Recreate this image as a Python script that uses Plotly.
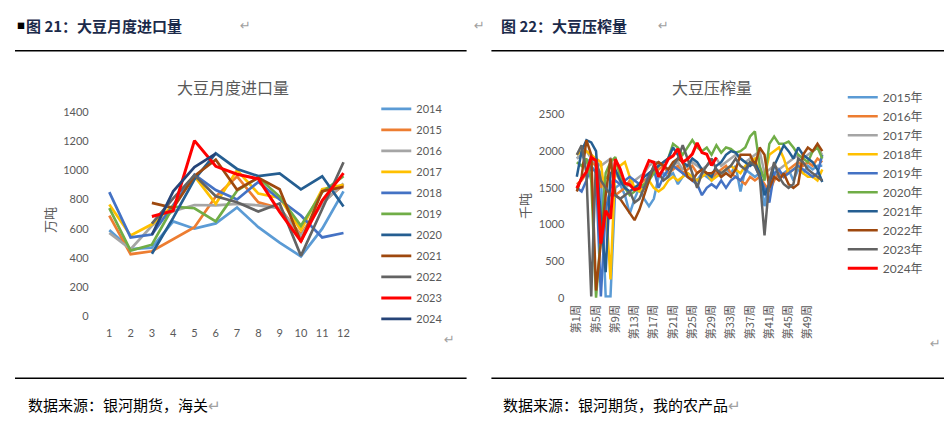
import plotly.graph_objects as go

# page is 952x431; the browser adds an 8px body margin, so the figure is 936x415
PAGE_MARGIN = 8
W, H = 952 - 2 * PAGE_MARGIN, 431 - 2 * PAGE_MARGIN

# ---------------- Left chart: monthly soybean imports (万吨) ----------------
months = list(range(1, 13))
month_labels = [str(m) for m in months]
imp_years = ["2014", "2015", "2016", "2017", "2018", "2019", "2020", "2021", "2022", "2023", "2024"]
imp_2014 = [590, 460, 470, 650, 600, 636, 745, 610, 505, 410, 600, 855]
imp_2015 = [690, 425, 445, 530, 610, 820, 958, 780, 740, 560, 780, 900]
imp_2016 = [570, 460, 620, 720, 762, 760, 770, 760, 740, 550, 770, 910]
imp_2017 = [765, 553, 630, 760, 960, 770, 1000, 840, 810, 590, 870, 900]
imp_2018 = [850, 540, 560, 760, 970, 865, 800, 920, 800, 690, 540, 570]
imp_2019 = [740, 450, 490, 750, 740, 650, 860, 950, 820, 620, 850, 960]
imp_2020 = [None, None, 428, 674, 938, 1116, 1009, 960, 979, 869, 959, 752]
imp_2021 = [None, None, 777, 742, 961, 1072, 867, 949, 870, 511, 857, 886]
imp_2022 = [None, None, 635, 808, 967, 822, 781, 717, 772, 414, 735, 1055]
imp_2023 = [None, None, 683, 723, 1203, 1027, 973, 941, 715, 515, 793, 980]
imp_2024 = [None, None, 557, 856, 1022, 1114, None, None, None, None, None, None]
imp_series = [imp_2014, imp_2015, imp_2016, imp_2017, imp_2018, imp_2019,
              imp_2020, imp_2021, imp_2022, imp_2023, imp_2024]
imp_colors = ["#5B9BD5", "#ED7D31", "#A5A5A5", "#FFC000", "#4472C4", "#70AD47",
              "#255E91", "#9E480E", "#636363", "#FF0000", "#264478"]
imp_yticks = [0, 200, 400, 600, 800, 1000, 1200, 1400]

# ---------------- Right chart: weekly soybean crush (千吨) ----------------
weeks = list(range(1, 53))
week_tick_vals = list(range(1, 53, 4))
week_tick_text = ["第%d周" % w for w in week_tick_vals]
crush_years = ["2015年", "2016年", "2017年", "2018年", "2019年", "2020年", "2021年", "2022年", "2023年", "2024年"]
cr_2015 = [1900, 1950, 1850, 1900, 1800, 1700, 20, 20, 1500, 1550, 1400, 1150, 1350, 1500, 1350, 1250,
           1350, 1650, 1700, 1650, 1700, 1550, 1650, 1700, 1650, 1600, 1700, 1650, 1600, 1700, 1650, 1750,
           1700, 1800, 1450, 1750, 1700, 1650, 1700, 1250, 1600, 1700, 1650, 1700, 1750, 1600, 1750, 1700,
           1800, 1750, 1800, 1800]
cr_2016 = [1550, 1600, 1700, 1850, 1800, 1500, 1650, 1600, 1400, 1450, 1500, 1600, 1500, 1550, 1600, 1650,
           1700, 1750, 1800, 1700, 1750, 1800, 1700, 1750, 1800, 1700, 1750, 1700, 1650, 1700, 1750, 1800,
           1700, 1650, 1600, 1550, 1650, 1600, 1650, 1550, 1450, 1600, 1700, 1650, 1750, 1800, 1850, 1800,
           1850, 1800, 1900, 1850]
cr_2017 = [1900, 1950, 2000, 1900, 1850, 1800, 1850, 1900, 1700, 1600, 1500, 1550, 1600, 1650, 1700, 1800,
           1850, 1850, 1800, 1750, 1800, 1850, 1750, 1800, 1850, 1800, 1750, 1800, 1850, 1900, 1800, 1850,
           1900, 1950, 1900, 1850, 1900, 1950, 2000, 1700, 1750, 1800, 1750, 1800, 1850, 1900, 1950, 1900,
           1950, 2000, 2050, 1950]
cr_2018 = [1950, 2000, 2000, 1950, 1900, 1850, 1300, 250, 1800, 1800, 1850, 1650, 1500, 1450, 1550, 1600,
           1500, 1450, 1500, 1600, 1650, 1600, 1650, 1700, 1650, 1600, 1650, 1700, 1600, 1650, 1700, 1750,
           1800, 1750, 1700, 1800, 1850, 1900, 1700, 1650, 1950, 2000, 2050, 1900, 1700, 1750, 1800, 1700,
           1650, 1650, 1600, 1750]
cr_2019 = [1500, 1450, 1600, 1800, 1700, 20, 1200, 1500, 1600, 1550, 1600, 1650, 1600, 1550, 1500, 1700,
           1750, 1500, 1650, 1750, 1800, 1750, 1700, 1650, 1600, 1550, 1400, 1500, 1550, 1500, 1600, 1500,
           1600, 1650, 1600, 1700, 1850, 1800, 1650, 1500, 1300, 1700, 1750, 1650, 1700, 1750, 1800, 1750,
           1700, 1650, 1700, 1950]
cr_2020 = [1850, 1800, 1900, 1600, 0, 800, 1700, 1850, 1920, 1650, 1500, 1400, 1450, 1500, 1550, 1600,
           1700, 1800, 1850, 1900, 2100, 2050, 1950, 2050, 2150, 2050, 2000, 2050, 1950, 2080, 1980, 2050,
           2030, 1980, 2000, 2050, 2200, 2270, 1800, 1600, 2100, 2200, 2100, 2100, 2130, 2050, 1950, 1900,
           1850, 2000, 2050, 1900]
cr_2021 = [1650, 2000, 2150, 2120, 2000, 1100, 350, 1700, 1750, 1600, 1500, 1450, 1500, 1550, 1650, 1700,
           1750, 1800, 1850, 1900, 2050, 1950, 1850, 1800, 1900, 1850, 1750, 1700, 1650, 1800, 1850, 1950,
           2000, 1980, 1900, 1850, 1800, 1850, 1700, 1400, 1550, 1800, 1950, 2080, 2000, 1900, 2050, 1950,
           1900, 1850, 1750, 1580]
cr_2022 = [1450, 1650, 2150, 1950, 100, 800, 1400, 1900, 1400, 1350, 1250, 1150, 1060, 1200, 1400, 1600,
           1800, 1850, 1800, 1750, 1850, 1900, 1850, 1650, 1600, 1700, 1750, 1700, 1700, 1750, 1650, 1700,
           1650, 1750, 1950, 1950, 1950, 1800, 2050, 1950, 1500, 1650, 1600, 1700, 1550, 1500, 1550, 1950,
           2050, 2000, 2100, 2000]
cr_2023 = [1950, 2080, 1700, 20, 1900, 1600, 1500, 1400, 1400, 1350, 1400, 1450, 1300, 1350, 1500, 1650,
           1800, 1700, 1600, 1650, 1800, 1900, 2080, 1900, 1700, 1500, 1700, 1800, 1900, 1750, 1700, 1750,
           1800, 1900, 1800, 1750, 1850, 1800, 1650, 850, 1600, 1850, 1650, 1550, 1500, 1550, 1900, 1850,
           1750, 1700, 1650, 1600]
cr_2024 = [1496, 1628, 1716, 1914, 1870, 740, 1188, 1078, 1892, 1760, 1562, 1540, 1474, 1496, 1716, 1870,
           1848, 1650, 1760, 1892, 1936, 2033, 1848, 1892, 1960, 2112, 1980, 1958, 1804, 1914]
crush_series = [cr_2015, cr_2016, cr_2017, cr_2018, cr_2019, cr_2020, cr_2021, cr_2022, cr_2023, cr_2024]
crush_colors = ["#5B9BD5", "#ED7D31", "#A5A5A5", "#FFC000", "#4472C4", "#70AD47",
                "#255E91", "#9E480E", "#636363", "#FF0000"]
crush_yticks = [0, 500, 1000, 1500, 2000, 2500]


def px_x(p):
    return (p - PAGE_MARGIN) / W


def px_y(p):
    return 1 - (p - PAGE_MARGIN) / H


fig = go.Figure()

for name, vals, col in zip(imp_years, imp_series, imp_colors):
    fig.add_trace(go.Scatter(
        x=months, y=vals, name=name, mode="lines",
        line=dict(color=col, width=3 if name == "2023" else 2.7),
        legend="legend", legendgroup="imp" + name,
        xaxis="x", yaxis="y", hoverinfo="skip"))

for name, vals, col in zip(crush_years, crush_series, crush_colors):
    fig.add_trace(go.Scatter(
        x=weeks[:len(vals)], y=vals, name=name, mode="lines",
        line=dict(color=col, width=3 if name == "2024年" else 2.5),
        legend="legend2",
        xaxis="x2", yaxis="y2", hoverinfo="skip"))

TXT = "#595959"
NUMFONT = "Lato, Noto Sans CJK SC, sans-serif"
CJK = "Noto Sans CJK SC"

fig.update_layout(
    width=W, height=H,
    margin=dict(l=0, r=0, t=0, b=0),
    paper_bgcolor="white", plot_bgcolor="white",
    showlegend=True,
    xaxis=dict(domain=[px_x(92.3), px_x(349.7)], range=[0.5, 12.5], anchor="y",
               tickmode="array", tickvals=months, ticktext=month_labels,
               showgrid=False, zeroline=False, showline=False, ticks="",
               ticklabelstandoff=9,
               tickfont=dict(family=NUMFONT, size=11, color=TXT)),
    yaxis=dict(domain=[px_y(319), px_y(108)], range=[0, 1400], anchor="x",
               tickmode="array", tickvals=imp_yticks,
               showgrid=False, zeroline=False, showline=False, ticks="",
               ticklabelstandoff=9,
               tickfont=dict(family=NUMFONT, size=11, color=TXT)),
    xaxis2=dict(domain=[px_x(571.6), px_x(823.8)], range=[0.5, 52.5], anchor="y2",
                tickmode="array", tickvals=week_tick_vals, ticktext=week_tick_text,
                tickangle=-90,
                showgrid=False, zeroline=False, showline=False, ticks="",
                ticklabelstandoff=4,
                tickfont=dict(family=CJK, size=11, color=TXT)),
    yaxis2=dict(domain=[px_y(300), px_y(110.7)], range=[0, 2500], anchor="x2",
                tickmode="array", tickvals=crush_yticks,
                showgrid=False, zeroline=False, showline=False, ticks="",
                ticklabelstandoff=9,
                tickfont=dict(family=NUMFONT, size=11, color=TXT)),
    legend=dict(x=px_x(372), y=px_y(90), xanchor="left", yanchor="top",
                font=dict(family=NUMFONT, size=11, color=TXT),
                tracegroupgap=2, bgcolor="rgba(0,0,0,0)"),
    legend2=dict(x=px_x(842), y=px_y(78), xanchor="left", yanchor="top",
                 font=dict(family=NUMFONT, size=12, color=TXT),
                 bgcolor="rgba(0,0,0,0)"),
)

ann = []
ann.append(dict(x=px_x(228), y=px_y(82), text="大豆月度进口量", showarrow=False,
                xref="paper", yref="paper", xanchor="center", yanchor="middle",
                font=dict(family=CJK, size=16, color=TXT)))
ann.append(dict(x=px_x(710), y=px_y(82), text="大豆压榨量", showarrow=False,
                xref="paper", yref="paper", xanchor="center", yanchor="middle",
                font=dict(family=CJK, size=16, color=TXT)))
ann.append(dict(x=px_x(43), y=px_y(220), text="万吨", showarrow=False, textangle=-90,
                xref="paper", yref="paper", xanchor="center", yanchor="middle",
                font=dict(family=CJK, size=13, color=TXT)))
ann.append(dict(x=px_x(522), y=px_y(205), text="千吨", showarrow=False, textangle=-90,
                xref="paper", yref="paper", xanchor="center", yanchor="middle",
                font=dict(family=CJK, size=13, color=TXT)))
HDR = "#1B2A4A"
ann.append(dict(x=px_x(8), y=px_y(19), text="■", showarrow=False,
                xref="paper", yref="paper", xanchor="left", yanchor="middle",
                font=dict(family=CJK, size=8, color="#000000")))
ann.append(dict(x=px_x(17), y=px_y(19), text="<b>图 21：大豆月度进口量</b>", showarrow=False,
                xref="paper", yref="paper", xanchor="left", yanchor="middle",
                font=dict(family=CJK, size=15, color=HDR)))
ann.append(dict(x=px_x(496), y=px_y(19), text="<b>图 22：大豆压榨量</b>", showarrow=False,
                xref="paper", yref="paper", xanchor="left", yanchor="middle",
                font=dict(family=CJK, size=15, color=HDR)))
RET = "#A0A0A0"
for (rx, ry) in [(240, 19), (476, 19), (661, 19), (446, 343), (935, 347)]:
    ann.append(dict(x=px_x(rx), y=px_y(ry), text="↵", showarrow=False,
                    xref="paper", yref="paper", xanchor="center", yanchor="middle",
                    font=dict(family="DejaVu Sans", size=13, color=RET)))
ann.append(dict(x=px_x(19), y=px_y(410), text="数据来源：银河期货，海关<span style='color:#A0A0A0'>↵</span>",
                showarrow=False, xref="paper", yref="paper", xanchor="left", yanchor="middle",
                font=dict(family=CJK, size=15, color="#000000")))
ann.append(dict(x=px_x(498), y=px_y(410), text="数据来源：银河期货，我的农产品<span style='color:#A0A0A0'>↵</span>",
                showarrow=False, xref="paper", yref="paper", xanchor="left", yanchor="middle",
                font=dict(family=CJK, size=15, color="#000000")))
fig.update_layout(annotations=ann)

shapes = []
for (x0, x1) in [(8, 463), (488, 944)]:
    for yy in (45, 383):
        shapes.append(dict(type="line", xref="paper", yref="paper",
                           x0=px_x(x0), x1=px_x(x1), y0=px_y(yy), y1=px_y(yy),
                           line=dict(color="#000000", width=1.5)))
fig.update_layout(shapes=shapes)

fig.write_html("out.html", config={"displayModeBar": False})
